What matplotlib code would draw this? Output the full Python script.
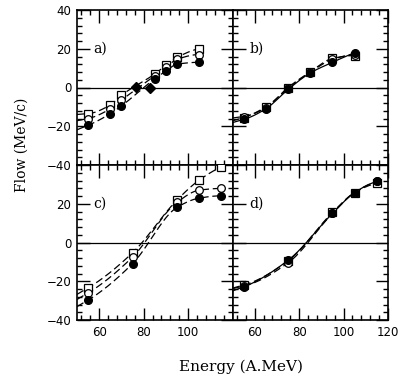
import numpy as np
import matplotlib
matplotlib.use("Agg")
import matplotlib.pyplot as plt
from matplotlib.ticker import MultipleLocator, AutoMinorLocator

# ---- data ----
# panel a
a_x = [55, 65, 70, 85, 90, 95, 105]
a_filled = [-19.5, -13.5, -9.5, 4.5, 8.5, 12, 13]
a_open = [-16, -11, -6.5, 6, 10.5, 14.5, 17]
a_square = [-13.5, -9, -4, 7, 11.5, 15.5, 20]
a_diam_x = [76.5, 83]
a_diam_y = [0.3, -0.2]
# panel b
b_x = [55, 65, 75, 85, 95, 105]
b_filled = [-16.5, -11, -1, 7.5, 13, 18]
b_open = [-15, -10.5, 0, 8, 14.5, 17]
b_square = [-15.5, -10, -0.5, 8, 15, 16.5]
# panel c
c_x = [55, 75, 95, 105, 115]
c_filled = [-29.7, -10.9, 18.1, 22.9, 24.1]
c_open = [-26, -7.5, 20.7, 27, 27.9]
c_square = [-23.4, -5.3, 21.9, 32.2, 39]
# panel d
d_x = [55, 75, 95, 105, 115]
d_filled = [-22.9, -9.2, 15, 25.8, 31.5]
d_open = [-22.5, -10.5, 15, 25.8, 31.5]
d_square = [-22, -9.5, 15.5, 25.8, 30.5]

panel_labels = ["a)", "b)", "c)", "d)"]
x_ticks = [60, 80, 100, 120]
y_ticks = [-40, -20, 0, 20, 40]

W, H = 413, 378
fig = plt.figure(figsize=(W / 100, H / 100), dpi=100)
L, R, T, B = 77 / W, 388 / W, 1 - 10 / H, 1 - 320 / H
pw = (R - L) / 2
ph = (T - B) / 2
axes = {}
for i, key in enumerate(["a", "b", "c", "d"]):
    r, c = divmod(i, 2)
    ax = fig.add_axes([L + c * pw, B + (1 - r) * ph, pw, ph])
    axes[key] = ax


def pchip(x, y, xx):
    x = np.asarray(x, float)
    y = np.asarray(y, float)
    h = np.diff(x)
    d = np.diff(y) / h
    n = len(x)
    m = np.zeros(n)
    for k in range(1, n - 1):
        if d[k - 1] * d[k] > 0:
            w1 = 2 * h[k] + h[k - 1]
            w2 = h[k] + 2 * h[k - 1]
            m[k] = (w1 + w2) / (w1 / d[k - 1] + w2 / d[k])
    m[0] = d[0] if n > 1 else 0
    m[-1] = d[-1]
    # endpoint slopes: three-point estimate, limited
    if n > 2:
        m0 = ((2 * h[0] + h[1]) * d[0] - h[0] * d[1]) / (h[0] + h[1])
        if np.sign(m0) == np.sign(d[0]):
            m[0] = m0
        mn = ((2 * h[-1] + h[-2]) * d[-1] - h[-1] * d[-2]) / (h[-1] + h[-2])
        m[-1] = mn if np.sign(mn) == np.sign(d[-1]) else 0
    out = np.empty_like(xx)
    for i, xv in enumerate(xx):
        if xv <= x[0]:
            out[i] = y[0] + m[0] * (xv - x[0])
            continue
        k = min(np.searchsorted(x, xv) - 1, n - 2)
        t = (xv - x[k]) / h[k]
        h00 = 2 * t**3 - 3 * t**2 + 1
        h10 = t**3 - 2 * t**2 + t
        h01 = -2 * t**3 + 3 * t**2
        h11 = t**3 - t**2
        out[i] = h00 * y[k] + h10 * h[k] * m[k] + h01 * y[k + 1] + h11 * h[k] * m[k + 1]
    return out


def fit_curve(ax, x, y, ls, x0=50):
    xx = np.linspace(x0, max(x), 300)
    kw = dict(color="black", lw=0.9, zorder=2)
    if ls == "--":
        kw["dashes"] = (6, 3)
    ax.plot(xx, pchip(x, y, xx), **kw)


def markers(ax, x, f, o, s):
    ax.plot(x, s, ls="none", marker="s", ms=5.5, mfc="white", mec="black", mew=0.9, zorder=3)
    ax.plot(x, o, ls="none", marker="o", ms=5.5, mfc="white", mec="black", mew=0.9, zorder=4)
    ax.plot(x, f, ls="none", marker="o", ms=5.5, mfc="black", mec="black", zorder=5)


# a
ax = axes["a"]
for y in (a_filled, a_open, a_square):
    fit_curve(ax, a_x, y, "--")
markers(ax, a_x, a_filled, a_open, a_square)
ax.plot(a_diam_x, a_diam_y, ls="none", marker="D", ms=5.5, mfc="black", mec="black", zorder=6)
# b
ax = axes["b"]
fit_curve(ax, b_x, b_filled, "-")
fit_curve(ax, b_x, b_open, "--")
fit_curve(ax, b_x, b_square, "--")
markers(ax, b_x, b_filled, b_open, b_square)
# c
ax = axes["c"]
for y in (c_filled, c_open, c_square):
    fit_curve(ax, c_x, y, "--")
markers(ax, c_x, c_filled, c_open, c_square)
# d
ax = axes["d"]
fit_curve(ax, d_x, d_filled, "-")
fit_curve(ax, d_x, d_open, "--")
fit_curve(ax, d_x, d_square, "--")
markers(ax, d_x, d_filled, d_open, d_square)

for key, lab in zip(["a", "b", "c", "d"], panel_labels):
    ax = axes[key]
    ax.set_xlim(50, 120)
    ax.set_ylim(-40, 40)
    ax.axhline(0, color="black", lw=0.9, zorder=1)
    ax.xaxis.set_major_locator(MultipleLocator(20))
    ax.yaxis.set_major_locator(MultipleLocator(20))
    ax.xaxis.set_minor_locator(AutoMinorLocator(5))
    ax.yaxis.set_minor_locator(AutoMinorLocator(5))
    ax.tick_params(which="both", direction="in", top=True, right=True,
                   bottom=True, left=True, width=1.0)
    ax.tick_params(which="major", length=9)
    ax.tick_params(which="minor", length=3.5)
    ax.tick_params(axis="both", labelsize=8.5, pad=4)
    for sp in ax.spines.values():
        sp.set_linewidth(1.2)
    ax.text(57.5, 20, lab, fontsize=10, family="DejaVu Serif", va="center", ha="left")
    ax.set_xticks(x_ticks)
    ax.set_yticks(y_ticks)
    ax.set_xticklabels([str(v) for v in x_ticks])
    ax.set_yticklabels(["\u2212" + str(-v) if v < 0 else str(v) for v in y_ticks])

axes["a"].tick_params(labelbottom=False)
axes["b"].tick_params(labelbottom=False, labelleft=False)
axes["d"].tick_params(labelleft=False)
for t in axes["c"].get_xticklabels():
    if t.get_text() == "120":
        t.set_visible(False)
for t in axes["c"].get_yticklabels():
    if t.get_text() == "40":
        t.set_visible(False)

fig.text(22 / W, 1 - 145 / H, "Flow (MeV/c)", rotation=90, family="DejaVu Serif",
         fontsize=10, ha="center", va="center")
fig.text(241 / W, 1 - 367 / H, "Energy (A.MeV)", family="DejaVu Serif",
         fontsize=11, ha="center", va="center")

fig.savefig("out.png", dpi=100)
